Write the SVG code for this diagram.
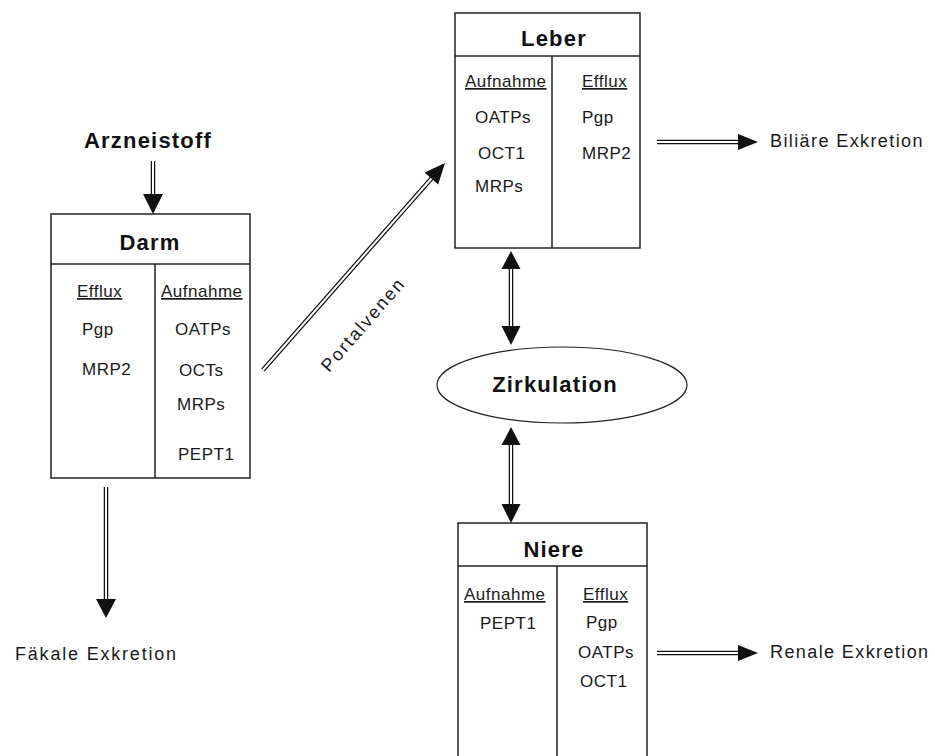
<svg xmlns="http://www.w3.org/2000/svg" width="935" height="756" viewBox="0 0 935 756">
<style>
.box{fill:#fff;stroke:#222;stroke-width:1.5}
.ln{stroke:#222;stroke-width:1.5;fill:none}
.h{font-family:"Liberation Sans",Arial,sans-serif;font-weight:bold;font-size:22px;letter-spacing:1.2px;fill:#111;text-anchor:middle}
.t{font-family:"Liberation Sans",Arial,sans-serif;font-size:17px;letter-spacing:0.5px;fill:#1a1a1a}
.u{text-decoration:underline}
.x{font-family:"Liberation Sans",Arial,sans-serif;font-size:18px;letter-spacing:1.4px;fill:#1a1a1a}
.so{stroke:#111;stroke-width:4.5;fill:none}
.si{stroke:#fff;stroke-width:2;fill:none}
.hd{fill:#111}
</style>
<rect width="935" height="756" fill="#fff"/>

<g id="connectors">
  <g id="c-arznei-darm">
    <line class="so" x1="153" y1="161" x2="153" y2="196"/>
    <line class="si" x1="153" y1="161" x2="153" y2="196"/>
    <polygon class="hd" points="143,194 163,194 153,214"/>
  </g>
  <g id="c-darm-faekal">
    <line class="so" x1="106" y1="487" x2="106" y2="602"/>
    <line class="si" x1="106" y1="487" x2="106" y2="602"/>
    <polygon class="hd" points="96,599 116,599 106,618"/>
  </g>
  <g id="c-portal" transform="translate(263,370) rotate(-48.67)">
    <line class="so" x1="0" y1="0" x2="258" y2="0"/>
    <line class="si" x1="0" y1="0" x2="258" y2="0"/>
    <polygon class="hd" points="255,-9 255,9 275.6,0"/>
  </g>
  <g id="c-leber-zirk">
    <line class="so" x1="511" y1="266" x2="511" y2="329"/>
    <line class="si" x1="511" y1="266" x2="511" y2="329"/>
    <polygon class="hd" points="511,251 520.5,269 501.5,269"/>
    <polygon class="hd" points="501.5,326 520.5,326 511,345"/>
  </g>
  <g id="c-zirk-niere">
    <line class="so" x1="511" y1="443" x2="511" y2="506"/>
    <line class="si" x1="511" y1="443" x2="511" y2="506"/>
    <polygon class="hd" points="511,427 520.5,445 501.5,445"/>
    <polygon class="hd" points="501.5,504 520.5,504 511,523"/>
  </g>
  <g id="c-biliaer">
    <line class="so" x1="657" y1="142" x2="741" y2="142"/>
    <line class="si" x1="657" y1="142" x2="741" y2="142"/>
    <polygon class="hd" points="738,134 738,150 758,142"/>
  </g>
  <g id="c-renal">
    <line class="so" x1="657" y1="653" x2="741" y2="653"/>
    <line class="si" x1="657" y1="653" x2="741" y2="653"/>
    <polygon class="hd" points="738,645 738,661 758,653"/>
  </g>
  <text class="x" transform="translate(329,373) rotate(-49)" style="letter-spacing:2px">Portalvenen</text>
</g>

<g id="arzneistoff">
  <text class="h" x="148" y="148">Arzneistoff</text>
</g>

<g id="darm">
  <rect class="box" x="51" y="214" width="199" height="264"/>
  <line class="ln" x1="51" y1="264" x2="250" y2="264"/>
  <line class="ln" x1="155" y1="264" x2="155" y2="478"/>
  <text class="h" x="150" y="250">Darm</text>
  <text class="t u" x="77" y="297">Efflux</text>
  <text class="t" x="82" y="335">Pgp</text>
  <text class="t" x="82" y="375">MRP2</text>
  <text class="t u" x="161" y="297">Aufnahme</text>
  <text class="t" x="175" y="335">OATPs</text>
  <text class="t" x="179" y="376">OCTs</text>
  <text class="t" x="177" y="410">MRPs</text>
  <text class="t" x="178" y="460">PEPT1</text>
</g>

<g id="faekal">
  <text class="x" x="15" y="660" style="letter-spacing:1.8px">Fäkale Exkretion</text>
</g>

<g id="leber">
  <rect class="box" x="455" y="13" width="185" height="235"/>
  <line class="ln" x1="455" y1="56" x2="640" y2="56"/>
  <line class="ln" x1="552" y1="56" x2="552" y2="248"/>
  <text class="h" x="554" y="46">Leber</text>
  <text class="t u" x="465" y="87">Aufnahme</text>
  <text class="t" x="475" y="123">OATPs</text>
  <text class="t" x="478" y="159">OCT1</text>
  <text class="t" x="475" y="192">MRPs</text>
  <text class="t u" x="582" y="87">Efflux</text>
  <text class="t" x="582" y="123">Pgp</text>
  <text class="t" x="582" y="159">MRP2</text>
</g>

<g id="biliaer">
  <text class="x" x="770" y="147">Biliäre Exkretion</text>
</g>

<g id="zirkulation">
  <ellipse cx="562" cy="385" rx="125" ry="38" fill="#fff" stroke="#222" stroke-width="1.2"/>
  <text class="h" x="555" y="392">Zirkulation</text>
</g>

<g id="niere">
  <rect class="box" x="458" y="523" width="189" height="260"/>
  <line class="ln" x1="458" y1="566" x2="647" y2="566"/>
  <line class="ln" x1="557" y1="566" x2="557" y2="783"/>
  <text class="h" x="554" y="557">Niere</text>
  <text class="t u" x="464" y="600">Aufnahme</text>
  <text class="t" x="480" y="629">PEPT1</text>
  <text class="t u" x="583" y="600">Efflux</text>
  <text class="t" x="586" y="628">Pgp</text>
  <text class="t" x="578" y="658">OATPs</text>
  <text class="t" x="580" y="687">OCT1</text>
</g>

<g id="renal">
  <text class="x" x="770" y="658">Renale Exkretion</text>
</g>
</svg>
